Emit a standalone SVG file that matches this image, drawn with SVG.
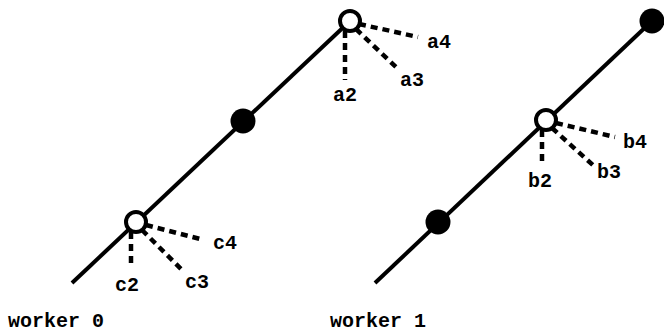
<svg xmlns="http://www.w3.org/2000/svg" width="664" height="332" viewBox="0 0 664 332">
  <style>
    .axis { stroke: #000; stroke-width: 4; fill: none; }
    .fan { stroke: #000; stroke-width: 4.5; stroke-dasharray: 7 5; fill: none; }
    .open { fill: #fff; stroke: #000; stroke-width: 4; }
    .full { fill: #000; }
    text { font-family: "Liberation Mono", "Courier New", monospace; font-weight: bold; fill: #000; }
    .lbl { font-size: 20px; }
    .cap { font-size: 20px; }
  </style>

  <!-- main axes and dashed fans -->
  <g id="connectors">
    <line class="axis" x1="72" y1="283" x2="350" y2="21"/>
    <line class="axis" x1="375" y1="283" x2="652" y2="21"/>

    <line class="fan" x1="345" y1="31" x2="345" y2="80"/>
    <line class="fan" x1="356" y1="29" x2="397" y2="68"/>
    <line class="fan" x1="359" y1="24" x2="418" y2="37"/>

    <line class="fan" x1="542" y1="130" x2="542" y2="164"/>
    <line class="fan" x1="552" y1="128" x2="595" y2="167"/>
    <line class="fan" x1="556" y1="123" x2="615" y2="137"/>

    <line class="fan" x1="131" y1="232" x2="131" y2="268"/>
    <line class="fan" x1="142" y1="230" x2="182" y2="270"/>
    <line class="fan" x1="146" y1="225" x2="204" y2="240"/>
  </g>

  <!-- worker 0 -->
  <g id="w0-c"><circle class="open" cx="136" cy="222" r="10"/></g>
  <g id="w0-mid"><circle class="full" cx="243" cy="121" r="12.5"/></g>
  <g id="w0-a"><circle class="open" cx="350" cy="21" r="10"/></g>

  <!-- worker 1 -->
  <g id="w1-low"><circle class="full" cx="438" cy="222" r="12.5"/></g>
  <g id="w1-b"><circle class="open" cx="546" cy="120" r="10"/></g>
  <g id="w1-top"><circle class="full" cx="652" cy="21" r="12.5"/></g>

  <!-- labels -->
  <g id="labels">
    <text class="lbl" x="333" y="101">a2</text>
    <text class="lbl" x="400" y="86">a3</text>
    <text class="lbl" x="427" y="48">a4</text>
    <text class="lbl" x="528" y="187">b2</text>
    <text class="lbl" x="597" y="178">b3</text>
    <text class="lbl" x="623" y="148">b4</text>
    <text class="lbl" x="115" y="291">c2</text>
    <text class="lbl" x="185" y="288">c3</text>
    <text class="lbl" x="213" y="249">c4</text>
    <text class="cap" x="8" y="327">worker 0</text>
    <text class="cap" x="330" y="327">worker 1</text>
  </g>
</svg>
